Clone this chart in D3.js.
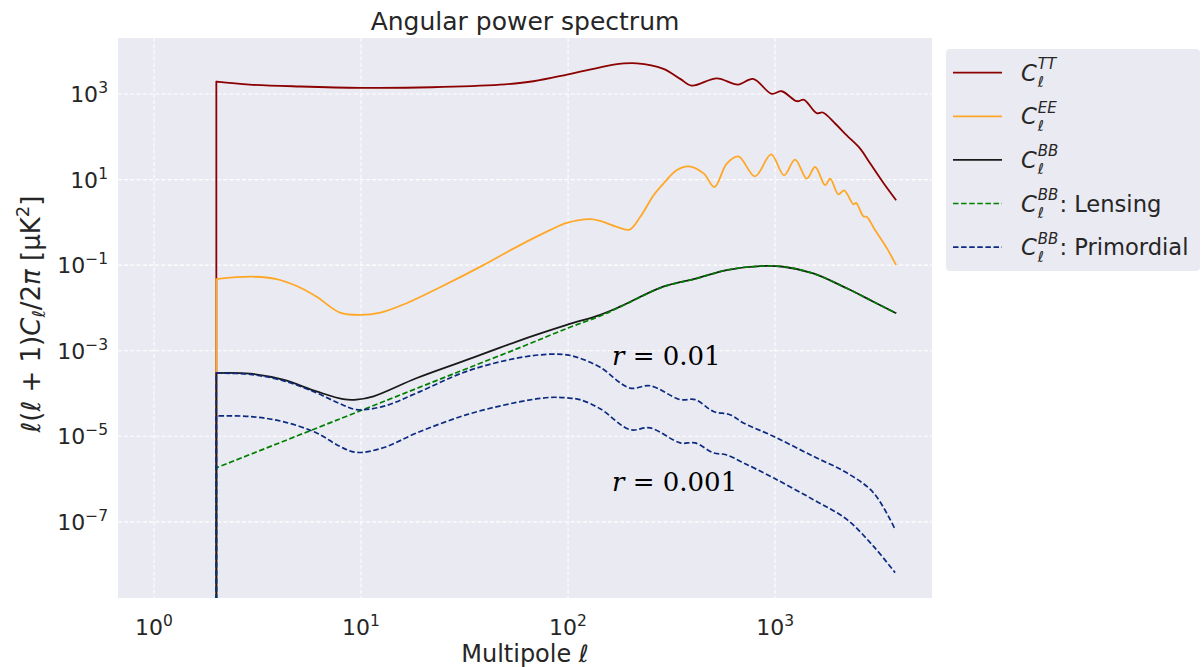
<!DOCTYPE html>
<html><head><meta charset="utf-8">
<script src="https://cdn.jsdelivr.net/npm/d3@7"></script>
<style>
body{margin:0;background:#fff;}
text{font-family:"DejaVu Sans",sans-serif;fill:#262626;}
</style>
</head><body>
<svg id="chart" width="1203" height="667"></svg>
<script>
// ---------- data ----------
const ttEll = [2, 2.9, 5.1, 9.9, 22, 47, 68, 99, 143, 166, 215, 289, 348, 396, 523, 662, 783, 963, 1077, 1273, 1380, 1589, 1700, 1950, 2220, 2570, 2877, 3325, 3845];
const ttVal = [1950, 1660, 1500, 1400, 1440, 1660, 1990, 2850, 4220, 4880, 5220, 3870, 2260, 1580, 2335, 1665, 2260, 1010, 1162, 680, 733, 357, 370, 205, 108, 53.7, 24, 8.6, 3.3];

const eeEll = [2, 2.97, 3.91, 4.89, 6.1, 7.92, 9.9, 12.4, 16.6, 24.1, 39, 56.5, 81.8, 98.6, 128, 143, 172, 198, 223, 259, 289, 334, 381, 453, 509, 584, 665, 800, 957, 1105, 1249, 1423, 1561, 1745, 1845, 2023, 2155, 2390, 2462, 2670, 2775, 3040, 3465, 3845];
const eeVal = [0.0474, 0.0537, 0.0474, 0.0326, 0.0183, 0.00776, 0.00687, 0.00776, 0.0129, 0.0304, 0.1, 0.268, 0.658, 0.97, 1.19, 1.08, 0.785, 0.68, 1.34, 4.3, 8.1, 16.5, 20.4, 13.8, 6.7, 23.6, 34.9, 11.9, 38.9, 12.6, 29.2, 10.5, 19.7, 7.4, 10.5, 4.5, 5.6, 2.65, 2.85, 1.39, 1.34, 0.66, 0.25, 0.10];

const bbEll = [2, 2.91, 4.2, 6.1, 8.2, 9.5, 11.5, 18.6, 32.4, 56.5, 98.6, 143, 178, 288, 419, 584, 847, 1097, 1530, 2220, 2985, 3845];
const bbVal = [3.0e-4, 2.9e-4, 2.1e-4, 1.12e-4, 7.4e-5, 7.2e-5, 8.6e-5, 2.3e-4, 6.1e-4, 1.64e-3, 4.0e-3, 6.9e-3, 0.0107, 0.0314, 0.0492, 0.0769, 0.0953, 0.0918, 0.0644, 0.0288, 0.014, 0.0075];

const lensEll = [2, 10, 30, 60, 100, 143, 178, 288, 419, 584, 847, 1097, 1530, 2220, 2985, 3845];
const lensVal = [1.83e-6, 4.0e-5, 3.3e-4, 1.24e-3, 3.4e-3, 6.5e-3, 0.0105, 0.031, 0.049, 0.077, 0.095, 0.092, 0.064, 0.0288, 0.014, 0.0075];

const r01Ell = [2, 2.91, 4.2, 6.1, 7.9, 9.5, 12.8, 18.6, 32.4, 56.5, 81.8, 98.6, 114, 143, 199, 249, 348, 411, 504, 606, 703, 981, 1531, 2220, 2985, 3800];
const r01Val = [3.0e-4, 2.8e-4, 2.0e-4, 1.03e-4, 5.8e-5, 4.2e-5, 5.0e-5, 1.03e-4, 3.3e-4, 6.7e-4, 8.3e-4, 8.0e-4, 6.7e-4, 4.1e-4, 1.34e-4, 1.52e-4, 7.2e-5, 7.2e-5, 3.8e-5, 3.2e-5, 2.05e-5, 1.0e-5, 3.4e-6, 1.4e-6, 4.8e-7, 6.7e-8];

const r001Ell = [2, 2.91, 4.2, 6.1, 7.9, 9.5, 12.8, 18.6, 32.4, 56.5, 81.8, 98.6, 114, 143, 199, 249, 348, 411, 504, 580, 703, 981, 1531, 2220, 2985, 3800];
const r001Val = [3.0e-5, 2.9e-5, 2.2e-5, 1.2e-5, 5.8e-6, 4.2e-6, 5.4e-6, 1.2e-5, 3.2e-5, 6.2e-5, 8.1e-5, 7.9e-5, 7.2e-5, 4.4e-5, 1.43e-5, 1.57e-5, 7.0e-6, 7.0e-6, 4.1e-6, 3.7e-6, 2.4e-6, 1.07e-6, 3.3e-7, 1.14e-7, 2.7e-8, 6.5e-9];

const xTicks = [1, 10, 100, 1000];
const xTickExp = ["0", "1", "2", "3"];
const yTicks = [1e3, 1e1, 1e-1, 1e-3, 1e-5, 1e-7];
const yTickExp = ["3", "1", "\u22121", "\u22123", "\u22125", "\u22127"];
const legendSup = ["TT", "EE", "BB", "BB", "BB"];
const legendSuffix = ["", "", "", ": Lensing", ": Primordial"];
const annotations = [{r: "0.01", l: 163, v: 4.7e-4}, {r: "0.001", l: 163, v: 5.4e-7}];
const titleText = "Angular power spectrum";
const xLabelText = "Multipole \u2113";

// ---------- layout ----------
const svg = d3.select("#chart");
const M = {left: 118, right: 932, top: 38, bottom: 598};
const x = d3.scaleLog().domain([Math.pow(10, -0.174), Math.pow(10, 3.758)]).range([M.left, M.right]);
const y = d3.scaleLog().domain([Math.pow(10, -8.78), Math.pow(10, 4.31)]).range([M.bottom, M.top]);

svg.append("defs").append("clipPath").attr("id", "clip")
  .append("rect").attr("x", M.left).attr("y", M.top)
  .attr("width", M.right - M.left).attr("height", M.bottom - M.top);

svg.append("rect").attr("x", M.left).attr("y", M.top)
  .attr("width", M.right - M.left).attr("height", M.bottom - M.top)
  .attr("fill", "#EAEAF2");

// grid
const grid = svg.append("g");
grid.selectAll("line.gx").data(xTicks).join("line")
  .attr("x1", d => x(d)).attr("x2", d => x(d))
  .attr("y1", M.top).attr("y2", M.bottom)
  .attr("stroke", "#fff").attr("stroke-width", 1.1).attr("stroke-dasharray", "4,2.2");
grid.selectAll("line.gy").data(yTicks).join("line")
  .attr("x1", M.left).attr("x2", M.right)
  .attr("y1", d => y(d)).attr("y2", d => y(d))
  .attr("stroke", "#fff").attr("stroke-width", 1.1).attr("stroke-dasharray", "4,2.2");

// tick labels
const xt = svg.append("g").selectAll("text").data(xTicks).join("text")
  .attr("x", d => x(d)).attr("y", 635).attr("text-anchor", "middle")
  .attr("font-size", 22);
xt.append("tspan").text("10");
xt.append("tspan").attr("dy", -9).attr("font-size", 15.5).text((d, i) => xTickExp[i]);

const yt = svg.append("g").selectAll("text").data(yTicks).join("text")
  .attr("x", 108).attr("y", d => y(d) + 8).attr("text-anchor", "end")
  .attr("font-size", 22);
yt.append("tspan").text("10");
yt.append("tspan").attr("dy", -9).attr("font-size", 15.5).text((d, i) => yTickExp[i]);

// title and axis labels
svg.append("text").attr("x", (M.left + M.right) / 2).attr("y", 30)
  .attr("text-anchor", "middle").attr("font-size", 25).text(titleText);
svg.append("text").attr("x", (M.left + M.right) / 2).attr("y", 662)
  .attr("text-anchor", "middle").attr("font-size", 24).text(xLabelText);

const yl = svg.append("text").attr("transform", `translate(40,314) rotate(-90)`)
  .attr("text-anchor", "middle").attr("font-size", 26);
yl.append("tspan").text("\u2113(\u2113 + 1)");
yl.append("tspan").attr("font-style", "italic").text("C");
yl.append("tspan").attr("font-size", 18).attr("dy", 5).text("\u2113");
yl.append("tspan").attr("dy", -5).text("/2");
yl.append("tspan").attr("font-style", "italic").text("\u03c0");
yl.append("tspan").text(" [\u03bcK");
yl.append("tspan").attr("font-size", 18).attr("dy", -11).text("2");
yl.append("tspan").attr("dy", 11).text("]");

// series
const series = [
  {ell: ttEll, val: ttVal, color: "#8B0000", dash: null, w: 1.8},
  {ell: eeEll, val: eeVal, color: "#FFA726", dash: null, w: 1.8},
  {ell: bbEll, val: bbVal, color: "#1a1a1a", dash: null, w: 1.8},
  {ell: lensEll, val: lensVal, color: "#008000", dash: "5.5,2.6", w: 1.7},
  {ell: r01Ell, val: r01Val, color: "#0b2a80", dash: "5.5,2.6", w: 1.7},
  {ell: r001Ell, val: r001Val, color: "#0b2a80", dash: "5.5,2.6", w: 1.7}
];
const line = d3.line().x(d => x(d[0])).y(d => y(d[1])).curve(d3.curveCatmullRom.alpha(0.5));
const plot = svg.append("g").attr("clip-path", "url(#clip)");
series.forEach(s => {
  const pts = s.ell.map((l, i) => [l, s.val[i]]);
  // drop from the first point down past the bottom of the axes (zero values on a log axis)
  const p0 = pts[0];
  const dpath = `M${x(p0[0])},${M.bottom + 10}L${x(p0[0])},${y(p0[1])}`;
  plot.append("path").attr("d", dpath + line(pts).replace(/^M/, "L"))
    .attr("fill", "none").attr("stroke", s.color).attr("stroke-width", s.w)
    .attr("stroke-dasharray", s.dash).attr("stroke-linejoin", "round");
});

// annotations
annotations.forEach(a => {
  const t = svg.append("text").attr("x", x(a.l)).attr("y", y(a.v))
    .attr("font-size", 26).style("fill", "#000").style("font-family", "'DejaVu Serif', serif");
  t.append("tspan").attr("font-style", "italic").text("r");
  t.append("tspan").text(" = " + a.r);
});

// legend
const lg = svg.append("g");
lg.append("rect").attr("x", 946).attr("y", 49).attr("width", 254).attr("height", 222)
  .attr("rx", 4).attr("fill", "#EAEAF2");
series.slice(0, 5).forEach((s, i) => {
  const cy = 72.7 + i * 43.6;
  lg.append("line").attr("x1", 953).attr("x2", 1002).attr("y1", cy).attr("y2", cy)
    .attr("stroke", s.color).attr("stroke-width", s.w).attr("stroke-dasharray", s.dash);
  const c = lg.append("text").attr("x", 1021).attr("y", cy + 8).attr("font-size", 22.6)
    .attr("font-style", "italic").text("C");
  const cw = c.node().getComputedTextLength();
  const sup = lg.append("text").attr("x", 1021 + cw + 1).attr("y", cy - 3.5).attr("font-size", 15)
    .attr("font-style", "italic").text(legendSup[i]);
  lg.append("text").attr("x", 1021 + cw + 1).attr("y", cy + 14.5).attr("font-size", 15)
    .text("\u2113");
  const sw = sup.node().getComputedTextLength();
  if (legendSuffix[i]) {
    lg.append("text").attr("x", 1021 + cw + 2 + sw).attr("y", cy + 8).attr("font-size", 22.6)
      .text(legendSuffix[i]);
  }
});
</script>
</body></html>
